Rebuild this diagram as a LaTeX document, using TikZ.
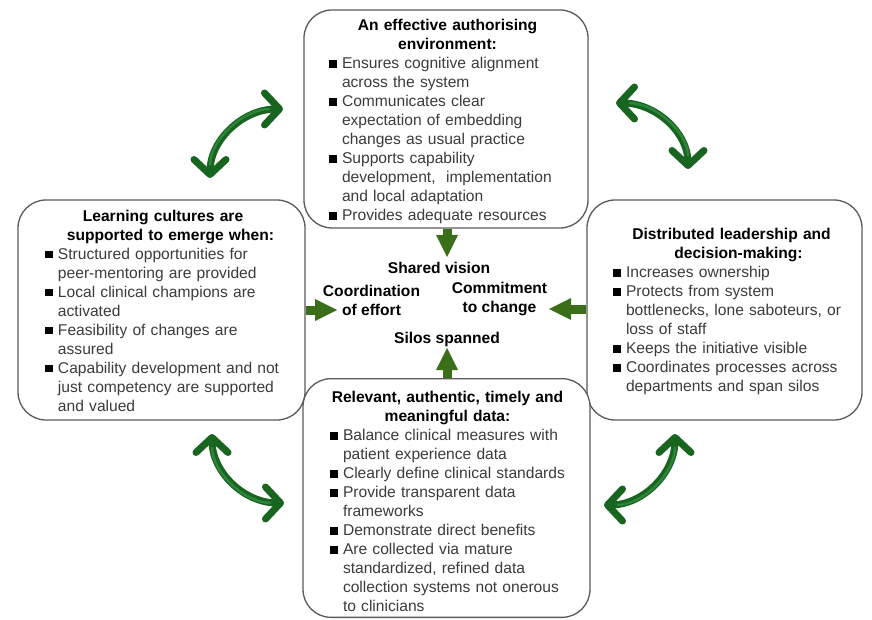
\documentclass[tikz,border=0pt]{standalone}
\usepackage{fontspec}
\setmainfont{Liberation Sans}
\usetikzlibrary{arrows.meta}
\setlength{\parindent}{0pt}
\definecolor{boxline}{HTML}{5A5A5A}
\definecolor{bodytext}{HTML}{3C3C3C}
\definecolor{blockgreen}{HTML}{3B6E18}
\definecolor{curvegreen}{HTML}{17651F}
\definecolor{curvelight}{HTML}{2E843A}
\newcommand{\bul}{\makebox[13pt][l]{\textcolor{black}{\rule[0.8pt]{7.5pt}{7.5pt}}}}
\newcommand{\itm}[1]{\strut\bul\mbox{#1}}
\newcommand{\cnt}[1]{\strut\hspace*{13pt}\mbox{#1}}
\newcommand{\ttl}[2][0pt]{\makebox[\hsize][c]{\strut\hspace*{#1}\textcolor{black}{\bfseries #2}}}
\newcommand{\ttlA}[3]{\makebox[\hsize][c]{\rule[-5.7pt]{0pt}{\dimexpr13.3pt+#1\relax}\hspace*{#2}\textcolor{black}{\bfseries #3}}}
\tikzset{
  panel/.style={draw=boxline, line width=1.3pt, rounded corners=28pt, fill=white,
    inner xsep=0pt, inner ysep=0pt, align=left, text=bodytext,
    font=\fontsize{15.6}{19}\selectfont},
  hub/.style={inner sep=0pt, align=center, text=black,
    font=\fontsize{15.6}{19}\selectfont\bfseries},
  blockarrow/.style={draw=blockgreen, line width=9pt,
    -{Triangle[length=22pt,width=22pt,line width=0pt]}},
  curvearrow/.style={draw=curvegreen, line width=7pt,
    {Straight Barb[length=15pt,width=32pt,round]}-{Straight Barb[length=15pt,width=32pt,round]},
    postaction={draw=curvelight, line width=2.4pt, arrows=-, shorten <=13pt, shorten >=13pt}},
}
\begin{document}
\begin{tikzpicture}[x=1pt,y=-1pt]
\path[fill=white] (0,0) rectangle (872,620);
\useasboundingbox (0,0) rectangle (872,620);

% panels
\node[panel, minimum width=284pt, minimum height=218pt, text width=234pt] (top) at (446,119) {%
\ttlA{11.4pt}{3pt}{An effective authorising}\\
\ttl[3pt]{environment:}\\
\itm{Ensures cognitive alignment}\\
\cnt{across the system}\\
\itm{Communicates clear}\\
\cnt{expectation of embedding}\\
\cnt{changes as usual practice}\\
\itm{Supports capability}\\
\cnt{development,\ \ implementation}\\
\cnt{and local adaptation}\\
\itm{Provides adequate resources}};

\node[panel, minimum width=287pt, minimum height=220pt, text width=233pt] (left) at (161.5,310) {%
\ttlA{10.4pt}{3pt}{Learning cultures are}\\
\ttl[18pt]{supported to emerge when:}\\
\itm{Structured opportunities for}\\
\cnt{peer-mentoring are provided}\\
\itm{Local clinical champions are}\\
\cnt{activated}\\
\itm{Feasibility of changes are}\\
\cnt{assured}\\
\itm{Capability development and not}\\
\cnt{just competency are supported}\\
\cnt{and valued}};

\node[panel, minimum width=275pt, minimum height=220pt, text width=223pt] (right) at (724.5,310) {%
\ttlA{9.4pt}{14pt}{Distributed leadership and}\\
\ttl[28pt]{decision-making:}\\
\itm{Increases ownership}\\
\itm{Protects from system}\\
\cnt{bottlenecks, lone saboteurs, or}\\
\cnt{loss of staff}\\
\itm{Keeps the initiative visible}\\
\itm{Coordinates processes across}\\
\cnt{departments and span silos}};

\node[panel, minimum width=287pt, minimum height=236pt, text width=233pt] (bottom) at (446.5,498) {%
\ttlA{16.4pt}{2pt}{Relevant, authentic, timely and}\\
\ttl[2pt]{meaningful data:}\\
\itm{Balance clinical measures with}\\
\cnt{patient experience data}\\
\itm{Clearly define clinical standards}\\
\itm{Provide transparent data}\\
\cnt{frameworks}\\
\itm{Demonstrate direct benefits}\\
\itm{Are collected via mature}\\
\cnt{standardized, refined data}\\
\cnt{collection systems not onerous}\\
\cnt{to clinicians}};

% hub labels
\node[hub] (shared) at (439,268) {Shared vision};
\node[hub] (coord) at (371.5,300.4) {Coordination\\of effort};
\node[hub] (commit) at (499.5,299) {Commitment\\to change};
\node[hub] (silos) at (447,339) {Silos spanned};

% block arrows
\coordinate (tipN) at (447,257);
\coordinate (tipW) at (337,310);
\coordinate (tipE) at (549,309);
\coordinate (tipS) at (447,348);
\draw[blockarrow] (top.south -| tipN) -- (tipN);
\draw[blockarrow] (left.east |- tipW) -- (tipW);
\draw[blockarrow] (right.west |- tipE) -- (tipE);
\draw[blockarrow] (bottom.north -| tipS) -- (tipS);

% curved double arrows
\coordinate (tlA) at (210,178);
\coordinate (tlB) at (283,109);
\coordinate (trA) at (616,103);
\coordinate (trB) at (688,169);
\coordinate (blA) at (212,434);
\coordinate (blB) at (284,503);
\coordinate (brA) at (675,434);
\coordinate (brB) at (604,505);
\draw[curvearrow] (tlA) .. controls (210,140) and (243,109) .. (tlB);
\draw[curvearrow] (trA) .. controls (656,103) and (688,133) .. (trB);
\draw[curvearrow] (blA) .. controls (212,472) and (244,503) .. (blB);
\draw[curvearrow] (brA) .. controls (675,473) and (643,505) .. (brB);
\end{tikzpicture}
\end{document}
